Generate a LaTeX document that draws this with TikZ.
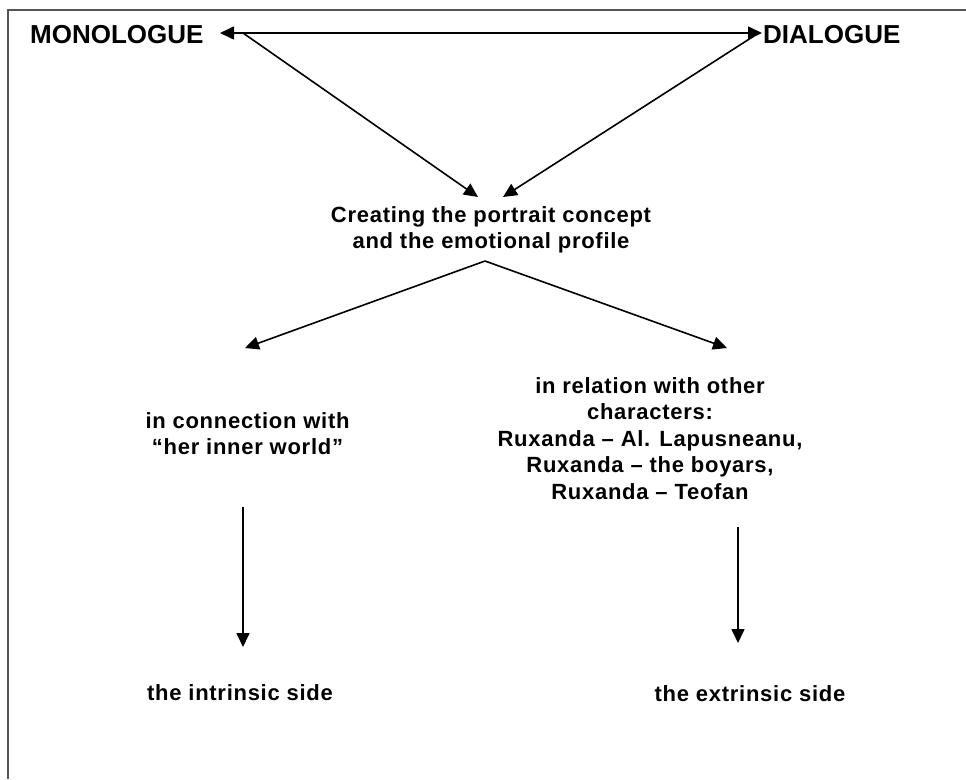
\documentclass[tikz,border=0pt]{standalone}
\usepackage{fontspec}
\setmainfont{Liberation Sans}[BoldFont={* Bold}]
\usetikzlibrary{arrows.meta}
\definecolor{framegray}{HTML}{555555}
\begin{document}
\begin{tikzpicture}[x=1pt,y=-1pt,
  title/.style={inner sep=0pt,font=\fontsize{26}{30}\selectfont\bfseries},
  body/.style={inner sep=0pt,align=center,
    font=\fontsize{22}{26.5}\selectfont\bfseries\addfontfeatures{LetterSpace=3.3}},
  conn/.style={line width=1.6pt,-{Triangle[length=14pt,width=13pt]}},
  bothconn/.style={line width=1.6pt,{Triangle[length=14pt,width=13pt]}-{Triangle[length=14pt,width=13pt]}},
  frameline/.style={line width=2pt,draw=framegray}]
\useasboundingbox (0,0) rectangle (966,779);
% frame
\draw[frameline] (8,779) -- (8,10) -- (966,10);
% nodes
\node[title,anchor=base west] (mono) at (30,43) {MONOLOGUE};
\node[title,anchor=base west] (dia) at (763,43) {DIALOGUE};
\node[body,anchor=north] (concept) at (491,206) {Creating the portrait concept\\and the emotional profile};
\node[body,anchor=north] (inner) at (247.5,412) {in connection with\\“her inner world”};
\node[body,anchor=north] (rel) at (650,377) {in relation with other\\characters:\\Ruxanda – Al. Lapusneanu,\\Ruxanda – the boyars,\\Ruxanda – Teofan};
\node[body,anchor=base] (intr) at (240,700) {the intrinsic side};
\node[body,anchor=base] (extr) at (750,701) {the extrinsic side};
% connector points
\coordinate (mL) at (220,33);
\coordinate (dR) at (762,33);
\coordinate (mS) at (243,33);
\coordinate (dS) at (754,36);
\coordinate (cL) at (478,197);
\coordinate (cR) at (503,197);
\coordinate (peak) at (485,261);
\coordinate (lT) at (245,348);
\coordinate (rT) at (727,348);
\coordinate (lvS) at (243,507);
\coordinate (lvE) at (243,647);
\coordinate (rvS) at (738,527);
\coordinate (rvE) at (738,643);
% connectors
\draw[bothconn] (mL) -- (dR);
\draw[conn] (mS) -- (cL);
\draw[conn] (dS) -- (cR);
\draw[conn] (peak) -- (lT);
\draw[conn] (peak) -- (rT);
\draw[conn] (lvS) -- (lvE);
\draw[conn] (rvS) -- (rvE);
\end{tikzpicture}
\end{document}
